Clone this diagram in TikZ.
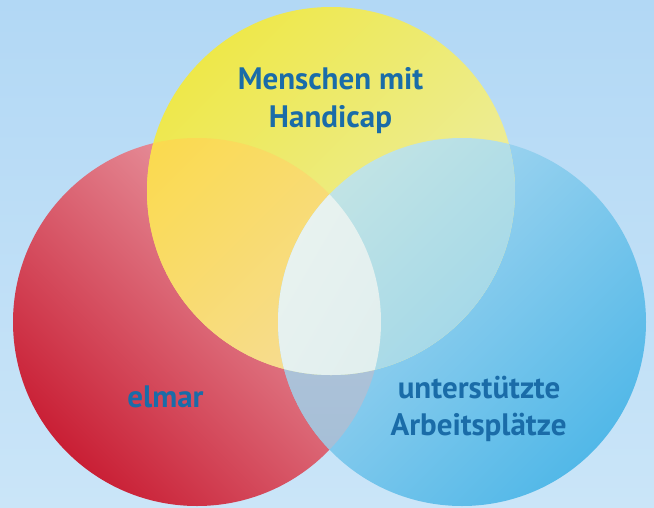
\documentclass[tikz,border=0pt]{standalone}
\usepackage{fontspec}
\setmainfont{PT Sans}
\usetikzlibrary{calc}
\definecolor{bgtop}{HTML}{B2D8F5}
\definecolor{bgbot}{HTML}{CAE5F8}
\definecolor{yelA}{HTML}{EEE84A}
\definecolor{yelB}{HTML}{ECEEAE}
\definecolor{redA}{HTML}{C91F35}
\definecolor{redB}{HTML}{EDAAB2}
\definecolor{bluA}{HTML}{AFDAF1}
\definecolor{bluB}{HTML}{52B8E8}
\definecolor{ryA}{HTML}{FBDA48}
\definecolor{ryB}{HTML}{F5DDA6}
\definecolor{ybA}{HTML}{DCEEE2}
\definecolor{ybB}{HTML}{A6D9E8}
\definecolor{rbA}{HTML}{BCCADC}
\definecolor{rbB}{HTML}{A2BDD6}
\definecolor{triA}{HTML}{F1F7F0}
\definecolor{triB}{HTML}{DEEDEE}
\definecolor{txt}{HTML}{1A6CA8}
\tikzset{
  lbl/.style={text=txt, font=\fontsize{31}{38}\selectfont\bfseries, inner sep=0pt, anchor=base},
}
\begin{document}
\begin{tikzpicture}[x=1pt,y=-1pt]
\useasboundingbox (0,0) rectangle (654,507);
\path[top color=bgtop, bottom color=bgbot] (0,0) rectangle (654,507);
\coordinate (Y) at (331,191);
\coordinate (R) at (197,322);
\coordinate (B) at (462,322);
\def\rad{184}
% red
\path[left color=redA, right color=redB, shading angle=135] (R) circle[radius=\rad];
% blue
\path[left color=bluA, right color=bluB, shading angle=45] (B) circle[radius=\rad];
% red & blue
\begin{scope}
  \clip (R) circle[radius=\rad];
  \path[top color=rbA, bottom color=rbB] (B) circle[radius=\rad];
\end{scope}
% yellow
\path[left color=yelA, right color=yelB, shading angle=45] (Y) circle[radius=\rad];
% yellow & red
\begin{scope}
  \clip (R) circle[radius=\rad];
  \path[left color=ryA, right color=ryB, shading angle=45] (Y) circle[radius=\rad];
\end{scope}
% yellow & blue
\begin{scope}
  \clip (B) circle[radius=\rad];
  \path[left color=ybA, right color=ybB, shading angle=45] (Y) circle[radius=\rad];
\end{scope}
% all three
\begin{scope}
  \clip (R) circle[radius=\rad];
  \clip (B) circle[radius=\rad];
  \path[left color=triA, right color=triB, shading angle=60] (Y) circle[radius=\rad];
\end{scope}
% labels
\node[lbl] (m1) at (330.5,89) {Menschen mit};
\node[lbl] (m2) at (330.5,127) {Handicap};
\node[lbl] (el) at (165.5,407) {elmar};
\node[lbl] (u1) at (479,398) {unterstützte};
\node[lbl] (u2) at (478.5,435) {Arbeitsplätze};
\end{tikzpicture}
\end{document}
